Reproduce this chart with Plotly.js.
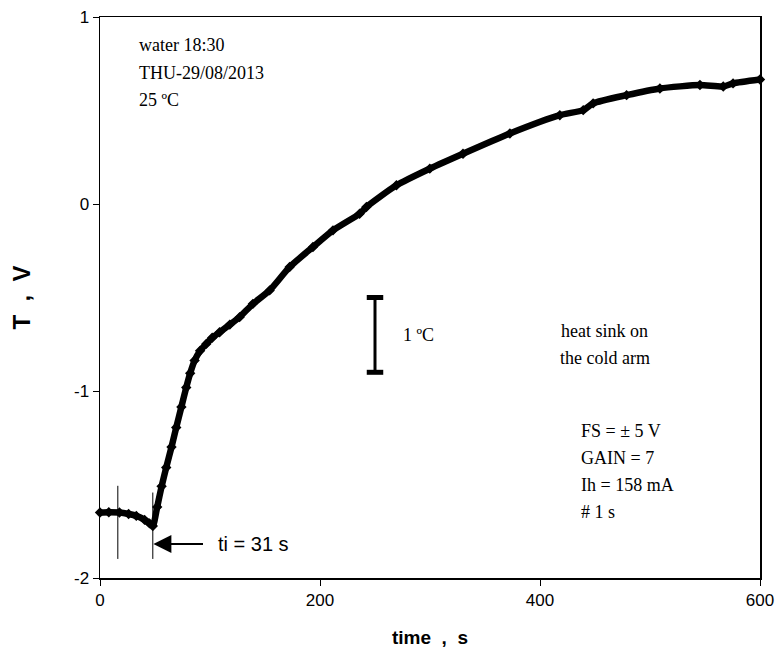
<!DOCTYPE html>
<html>
<head>
<meta charset="utf-8">
<script src="https://cdn.plot.ly/plotly-3.0.1.min.js"></script>
<style>html,body{margin:0;padding:0;background:#fff;}#chart{width:780px;height:655px;}</style>
</head>
<body>
<div id="chart"></div>
<script>
// time (s) and signal (V)
var timeS = [0, 8, 17.7, 26, 33, 40.5, 45, 48, 52, 56, 60.2, 65, 69.3, 74, 78.4, 82, 86, 91, 96.6, 102, 108.7, 118, 126.9, 139, 154.2, 172.4, 193.6, 211.8, 236, 242.2, 269.5, 299.8, 330, 372.6, 418, 439.3, 448.3, 478.7, 509, 545.4, 566.6, 575.5, 600];
var signalV = [-1.650, -1.648, -1.650, -1.658, -1.668, -1.689, -1.708, -1.722, -1.62, -1.51, -1.409, -1.30, -1.195, -1.085, -0.981, -0.905, -0.837, -0.785, -0.748, -0.715, -0.686, -0.645, -0.605, -0.534, -0.462, -0.337, -0.230, -0.141, -0.052, -0.016, 0.100, 0.189, 0.269, 0.377, 0.475, 0.502, 0.538, 0.582, 0.618, 0.636, 0.628, 0.645, 0.666];

var xTicks = [0, 200, 400, 600];
var yTicks = [-2, -1, 0, 1];

var notesLeft = ["water 18:30", "THU-29/08/2013", "25 ºC"];
var notesLeftY = [0.85, 0.70, 0.555];
var notesRight = ["FS = ± 5 V", "GAIN = 7", "Ih = 158 mA", "# 1 s"];
var notesRightY = [-1.212, -1.357, -1.502, -1.646];
var sinkText = ["heat sink on", "the cold arm"];
var sinkY = [-0.677, -0.821];

// scale bar (1 ºC) and markers
var barT = 250, barTop = -0.5, barBottom = -0.9;
var markT = [16.2, 48];
var markTop = [-1.507, -1.543];
var markBottom = -1.898;

var serif = "Liberation Serif, Times New Roman, serif";
var sans = "Liberation Sans, Arial, sans-serif";

var annotations = [];
for (var i = 0; i < notesLeft.length; i++) {
  annotations.push({x: 34, y: notesLeftY[i], xref: 'x', yref: 'y', text: notesLeft[i], showarrow: false,
    xanchor: 'left', yanchor: 'middle', font: {family: serif, size: 18, color: '#000'}});
}
for (var i = 0; i < notesRight.length; i++) {
  annotations.push({x: 435, y: notesRightY[i], xref: 'x', yref: 'y', text: notesRight[i], showarrow: false,
    xanchor: 'left', yanchor: 'middle', font: {family: serif, size: 18, color: '#000'}});
}
for (var i = 0; i < sinkText.length; i++) {
  annotations.push({x: 459, y: sinkY[i], xref: 'x', yref: 'y', text: sinkText[i], showarrow: false,
    xanchor: 'center', yanchor: 'middle', font: {family: serif, size: 18, color: '#000'}});
}
annotations.push({x: 274, y: -0.7, xref: 'x', yref: 'y', text: "1 ºC", showarrow: false,
  xanchor: 'left', yanchor: 'middle', font: {family: serif, size: 18, color: '#000'}});
annotations.push({x: 105.5, y: -1.818, xref: 'x', yref: 'y', text: "ti = 31 s", showarrow: false,
  xanchor: 'left', yanchor: 'middle', font: {family: sans, size: 20, color: '#000'}});
annotations.push({x: 48.5, y: -1.818, xref: 'x', yref: 'y', ax: 95, ay: -1.818, axref: 'x', ayref: 'y',
  text: "", showarrow: true, arrowhead: 2, arrowsize: 1.8, arrowwidth: 2, arrowcolor: '#000'});

var shapes = [];
shapes.push({type: 'line', xref: 'x', yref: 'y', x0: barT, x1: barT, y0: barTop, y1: barBottom, line: {color: '#000', width: 3}});
shapes.push({type: 'line', xref: 'x', yref: 'y', x0: barT - 7.5, x1: barT + 7.5, y0: barTop, y1: barTop, line: {color: '#000', width: 5}});
shapes.push({type: 'line', xref: 'x', yref: 'y', x0: barT - 7.5, x1: barT + 7.5, y0: barBottom, y1: barBottom, line: {color: '#000', width: 5}});
for (var i = 0; i < markT.length; i++) {
  shapes.push({type: 'line', xref: 'x', yref: 'y', x0: markT[i], x1: markT[i], y0: markTop[i], y1: markBottom, line: {color: '#000', width: 1}});
}

var trace = {
  x: timeS, y: signalV, type: 'scatter', mode: 'lines+markers',
  line: {color: '#000', width: 6.5, shape: 'spline', smoothing: 0.6},
  marker: {symbol: 'diamond', size: 8, color: '#000'},
  cliponaxis: false, hoverinfo: 'skip'
};

var layout = {
  width: 780, height: 655,
  margin: {l: 100, r: 20, t: 17, b: 77},
  paper_bgcolor: '#fff', plot_bgcolor: '#fff',
  showlegend: false,
  xaxis: {
    range: [0, 600], tickvals: xTicks, ticktext: xTicks.map(String),
    ticks: 'outside', ticklen: 6, tickwidth: 1, tickcolor: '#000',
    showline: true, mirror: true, linecolor: '#000', linewidth: 1.5,
    showgrid: false, zeroline: false,
    tickfont: {family: sans, size: 17, color: '#000'},
    title: {text: "<b>time  ,  s</b>", font: {family: sans, size: 19, color: '#000'}, standoff: 22}
  },
  yaxis: {
    range: [-2, 1], tickvals: yTicks, ticktext: yTicks.map(String),
    ticks: 'outside', ticklen: 6, tickwidth: 1, tickcolor: '#000',
    showline: true, mirror: true, linecolor: '#000', linewidth: 1.5,
    showgrid: false, zeroline: false,
    tickfont: {family: sans, size: 17, color: '#000'},
    title: {text: "<b>T  ,  V</b>", font: {family: sans, size: 24, color: '#000'}, standoff: 36}
  },
  annotations: annotations,
  shapes: shapes
};

Plotly.newPlot('chart', [trace], layout, {displayModeBar: false, staticPlot: true});
</script>
</body>
</html>
